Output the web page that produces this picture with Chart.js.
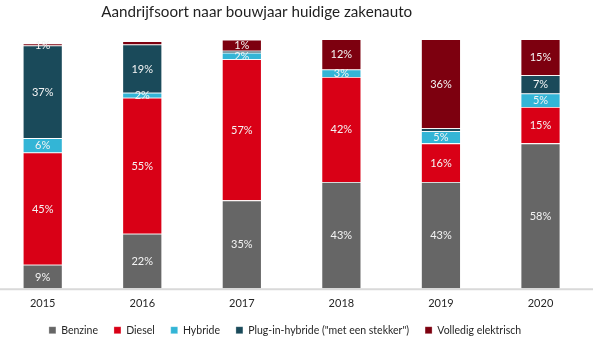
<!DOCTYPE html>
<html>
<head>
<meta charset="utf-8">
<script src="https://cdn.jsdelivr.net/npm/chart.js@4.4.1/dist/chart.umd.min.js"></script>
<style>
  html, body { margin: 0; padding: 0; background: #ffffff; }
  #wrap { width: 593px; height: 347px; }
</style>
</head>
<body>
<div id="wrap"><canvas id="c" width="593" height="347"></canvas></div>
<script>
// ---- data ----
const chartTitle = 'Aandrijfsoort naar bouwjaar huidige zakenauto';
const categories = ['2015', '2016', '2017', '2018', '2019', '2020'];
const seriesNames = ['Benzine', 'Diesel', 'Hybride', 'Plug-in-hybride ("met een stekker")', 'Volledig elektrisch'];
const benzine  = [9.4, 21.9, 35.3, 42.7, 42.7, 58.2];
const diesel   = [45.1, 54.6, 56.7, 42.2, 15.5, 14.6];
const hybride  = [5.8, 2.0, 2.6, 3.0, 4.9, 5.4];
const pluginHybride = [37.2, 19.4, 0.8, 0, 1.2, 7.4];
const elektrisch = [0.8, 1.3, 4.4, 12.1, 35.7, 14.4];
// data label texts as printed on the reference
const benzineLabels  = ['9%', '22%', '35%', '43%', '43%', '58%'];
const dieselLabels   = ['45%', '55%', '57%', '42%', '16%', '15%'];
const hybrideLabels  = ['6%', '2%', '2%', '3%', '5%', '5%'];
const pluginLabels   = ['37%', '19%', '', '', '', '7%'];
const elektrischLabels = ['1%', '', '1%', '12%', '36%', '15%'];
const yMin = 0, yMax = 100;

const colors = ['#666666', '#d90016', '#33b5d6', '#1a4a5a', '#7d000f'];
const valueSets = [benzine, diesel, hybride, pluginHybride, elektrisch];
const labelSets = [benzineLabels, dieselLabels, hybrideLabels, pluginLabels, elektrischLabels];

const FONT = 'Lato, "Noto Sans", sans-serif';

const datasets = valueSets.map((vals, i) => ({
  label: seriesNames[i],
  data: vals,
  backgroundColor: colors[i],
  borderColor: 'rgba(255,255,255,0.35)',
  borderWidth: 0.8,
  categoryPercentage: 1.0,
  barPercentage: 0.4,
  clip: false
}));

const barLabelPlugin = {
  id: 'barLabels',
  afterDatasetsDraw(chart) {
    const ctx = chart.ctx;
    ctx.save();
    ctx.font = '11px ' + FONT;
    ctx.fillStyle = '#f4f4f4';
    ctx.textAlign = 'center';
    ctx.textBaseline = 'middle';
    chart.data.datasets.forEach((ds, i) => {
      const meta = chart.getDatasetMeta(i);
      meta.data.forEach((el, j) => {
        const t = labelSets[i][j];
        if (!t) return;
        const y = (el.y + el.base) / 2;
        ctx.fillText(t, el.x, y + 0.5);
      });
    });
    ctx.restore();
  }
};

const baseLinePlugin = {
  id: 'baseLine',
  beforeDatasetsDraw(chart) {
    const ctx = chart.ctx;
    const y = chart.scales.y.getPixelForValue(0);
    ctx.save();
    ctx.strokeStyle = '#d9d9d9';
    ctx.lineWidth = 2;
    ctx.beginPath();
    ctx.moveTo(0, y + 1);
    ctx.lineTo(chart.width, y + 1);
    ctx.stroke();
    ctx.restore();
  }
};

const titlePlugin = {
  id: 'leftTitle',
  afterDraw(chart) {
    const ctx = chart.ctx;
    ctx.save();
    ctx.font = '15.2px ' + FONT;
    ctx.fillStyle = '#1f1f1f';
    ctx.textAlign = 'center';
    ctx.textBaseline = 'alphabetic';
    ctx.fillText(chartTitle, 256.7, 16.9);
    ctx.restore();
  }
};

new Chart(document.getElementById('c'), {
  type: 'bar',
  data: { labels: categories, datasets: datasets },
  plugins: [baseLinePlugin, barLabelPlugin, titlePlugin],
  options: {
    responsive: false,
    animation: false,
    layout: { padding: { left: 0, right: 23, top: 39.3, bottom: 1.6 } },
    plugins: {
      title: { display: false },
      legend: {
        position: 'bottom',
        labels: {
          boxWidth: 7,
          boxHeight: 7,
          padding: 16,
          color: '#262626',
          font: { family: FONT, size: 10.5 }
        }
      },
      tooltip: { enabled: false }
    },
    scales: {
      x: {
        stacked: true,
        offset: false,
        grid: { display: false, drawTicks: false },
        border: { display: false },
        ticks: { color: '#262626', font: { family: FONT, size: 11 }, padding: 8.5 },
        afterFit(s) { s.height = s.height - 9.5; }
      },
      y: {
        stacked: true,
        display: true,
        position: 'left',
        min: yMin,
        max: yMax,
        grid: { display: false, drawTicks: false },
        border: { display: false },
        ticks: { display: false },
        afterFit(s) { s.width = 42.7; }
      },
      yR: {
        type: 'linear',
        display: true,
        position: 'right',
        grid: { display: false, drawTicks: false },
        border: { display: false },
        ticks: { display: false },
        afterFit(s) { s.width = 29.5; }
      }
    }
  }
});
</script>
</body>
</html>
